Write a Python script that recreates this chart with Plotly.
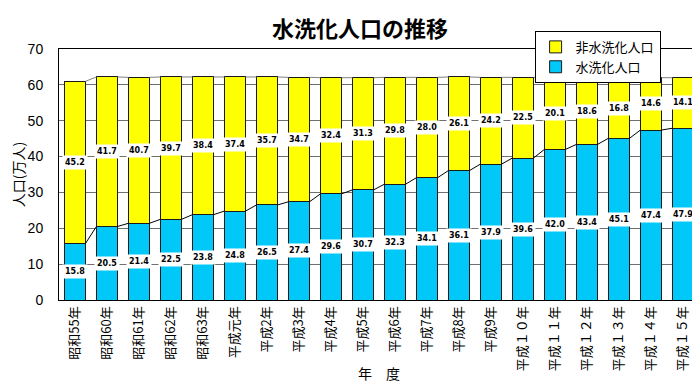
import plotly.graph_objects as go

years = ["昭和55年", "昭和60年", "昭和61年", "昭和62年", "昭和63年", "平成元年",
         "平成2年", "平成3年", "平成4年", "平成5年", "平成6年", "平成7年", "平成8年",
         "平成9年", "平成１０年", "平成１１年", "平成１２年", "平成１３年", "平成１４年", "平成１５年"]
flush = [15.8, 20.5, 21.4, 22.5, 23.8, 24.8, 26.5, 27.4, 29.6, 30.7,
         32.3, 34.1, 36.1, 37.9, 39.6, 42.0, 43.4, 45.1, 47.4, 47.9]
nonflush = [45.2, 41.7, 40.7, 39.7, 38.4, 37.4, 35.7, 34.7, 32.4, 31.3,
            29.8, 28.0, 26.1, 24.2, 22.5, 20.1, 18.6, 16.8, 14.6, 14.1]
y_ticks = [0, 10, 20, 30, 40, 50, 60, 70]

n = len(years)
xs = list(range(n))
totals = [a + b for a, b in zip(flush, nonflush)]
W = 0.66
FONT = "Noto Sans CJK JP"

fig = go.Figure()
fig.add_trace(go.Bar(x=xs, y=flush, name="水洗化人口", width=W,
                     marker=dict(color="#00C8F8", line=dict(color="#1a1a1a", width=1))))
fig.add_trace(go.Bar(x=xs, y=nonflush, name="非水洗化人口", width=W,
                     marker=dict(color="#FFFF00", line=dict(color="#1a1a1a", width=1))))


def series_line(vals, color):
    lx, ly = [], []
    for i in range(n - 1):
        lx += [xs[i] + W / 2, xs[i + 1] - W / 2, None]
        ly += [vals[i], vals[i + 1], None]
    return go.Scatter(x=lx, y=ly, mode="lines", line=dict(color=color, width=1),
                      showlegend=False, hoverinfo="skip")


fig.add_trace(series_line(flush, "#000000"))
fig.add_trace(series_line(totals, "#808080"))

annots = []
for i in range(n):
    for yv, txt in [(flush[i] / 2, flush[i]), (flush[i] + nonflush[i] / 2, nonflush[i])]:
        annots.append(dict(x=xs[i], y=yv, text=f"<b>{txt:.1f}</b>", showarrow=False,
                           bgcolor="white", borderpad=2,
                           font=dict(family="DejaVu Sans", size=8, color="black")))
annots.append(dict(xref="paper", yref="paper", x=0.5, y=-0.29, yanchor="middle",
                   text="年　度", showarrow=False,
                   font=dict(family=FONT, size=14, color="black")))

fig.update_layout(
    width=700, height=386,
    margin=dict(l=51, r=9, t=41, b=94),
    barmode="stack", bargap=0.34,
    paper_bgcolor="white", plot_bgcolor="white",
    title=dict(text="<b>水洗化人口の推移</b>", x=0.503, xanchor="center", y=0.945,
               yanchor="middle", font=dict(family=FONT, size=22, color="black")),
    legend=dict(x=0.94, y=1.072, xanchor="right", yanchor="top", bgcolor="white",
                bordercolor="black", borderwidth=1, traceorder="reversed",
                font=dict(family=FONT, size=13, color="black"),
                itemwidth=30, tracegroupgap=0),
    xaxis=dict(range=[-0.5, n - 0.5], tickvals=xs, ticktext=years, tickangle=-90,
               showgrid=False, showline=True, linecolor="black", linewidth=1, mirror=True,
               ticks="", tickfont=dict(family=FONT, size=13, color="black"),
               zeroline=False),
    yaxis=dict(range=[0, 70], tickvals=y_ticks, showgrid=True, gridcolor="#707070",
               gridwidth=1, showline=True, linecolor="black", linewidth=1, mirror=True,
               ticks="", ticklabelstandoff=12, zeroline=False,
               title=dict(text="人口(万人)", standoff=0,
                          font=dict(family=FONT, size=14, color="black")),
               tickfont=dict(family="Liberation Sans", size=14, color="black")),
    annotations=annots,
)
fig.write_html("out.html")
